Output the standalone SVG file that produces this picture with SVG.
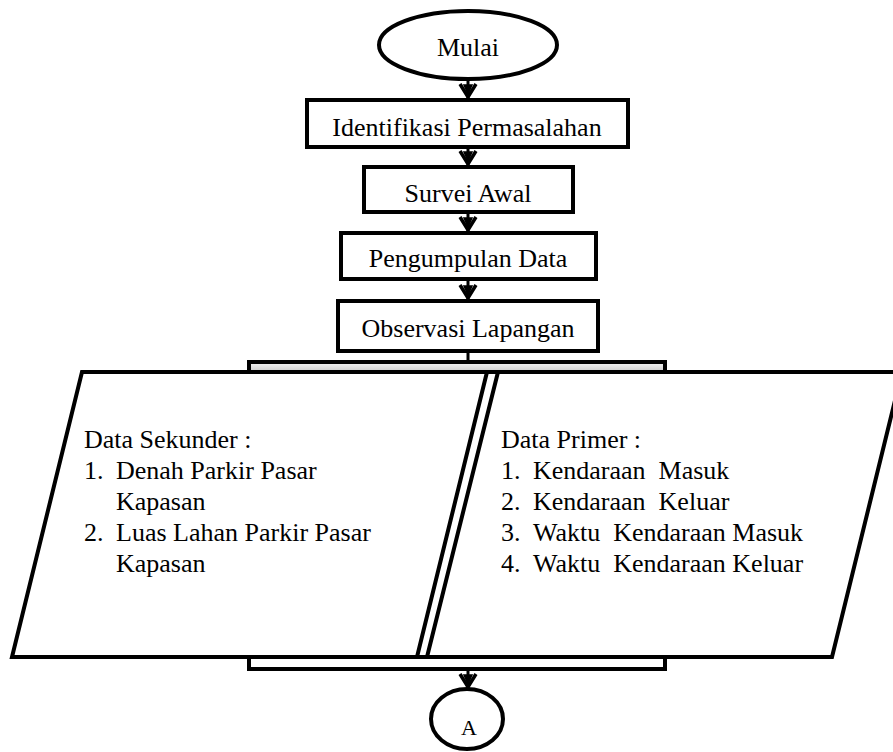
<svg xmlns="http://www.w3.org/2000/svg" width="893" height="752" viewBox="0 0 893 752">
<style>
.s{fill:#fff;stroke:#000;stroke-width:4}
.t{font-family:"Liberation Serif","Times New Roman",serif;font-size:26px;fill:#000}
.c{text-anchor:middle}
.ln{stroke:#000;stroke-width:3;fill:none}
</style>
<defs>
<linearGradient id="g" x1="0" y1="0" x2="0" y2="1">
<stop offset="0" stop-color="#f4f4f4"/><stop offset="1" stop-color="#c8c8c8"/>
</linearGradient>
<marker id="ah" viewBox="0 0 18 20" refX="16" refY="10" markerWidth="18" markerHeight="20" markerUnits="userSpaceOnUse" orient="auto">
<path d="M2,2 L15,10 L2,18" fill="none" stroke="#000" stroke-width="3.5"/>
<path d="M3,6 L12,10 L3,14 Z" fill="#000" stroke="#000" stroke-width="1.5"/>
</marker>
</defs>
<g id="connectors">
<line class="ln" x1="468" y1="80" x2="468" y2="98" marker-end="url(#ah)"/>
<line class="ln" x1="468" y1="147" x2="468" y2="165" marker-end="url(#ah)"/>
<line class="ln" x1="468" y1="212" x2="468" y2="231" marker-end="url(#ah)"/>
<line class="ln" x1="468" y1="279" x2="468" y2="299" marker-end="url(#ah)"/>
<line class="ln" x1="468" y1="351" x2="468" y2="362"/>
<line class="ln" x1="468" y1="670" x2="468" y2="688" marker-end="url(#ah)"/>
</g>
<g id="bar-top"><rect x="249" y="362" width="416" height="10" fill="url(#g)" stroke="#000" stroke-width="4"/></g>
<g id="bar-bottom"><rect x="249" y="657" width="416" height="12" fill="#fff" stroke="#000" stroke-width="4"/></g>
<g id="n-mulai"><ellipse class="s" cx="468" cy="45" rx="89" ry="34"/><text class="t c" x="468" y="56">Mulai</text></g>
<g id="n-identifikasi"><rect class="s" x="307" y="100" width="321" height="47"/><text class="t c" x="467" y="136">Identifikasi Permasalahan</text></g>
<g id="n-survei"><rect class="s" x="364" y="167" width="209" height="45"/><text class="t c" x="468" y="202">Survei Awal</text></g>
<g id="n-pengumpulan"><rect class="s" x="341" y="233" width="255" height="46"/><text class="t c" x="468" y="267">Pengumpulan Data</text></g>
<g id="n-observasi"><rect class="s" x="338" y="301" width="260" height="50"/><text class="t c" x="468" y="337">Observasi Lapangan</text></g>
<g id="n-sekunder">
<polygon class="s" points="82,372 487,372 417,657 12,657"/>
<text class="t" x="84" y="448">Data Sekunder :</text>
<text class="t" x="84" y="479">1.</text><text class="t" x="116" y="479">Denah Parkir Pasar</text>
<text class="t" x="116" y="510">Kapasan</text>
<text class="t" x="84" y="541">2.</text><text class="t" x="116" y="541">Luas Lahan Parkir Pasar</text>
<text class="t" x="116" y="572">Kapasan</text>
</g>
<g id="n-primer">
<polygon class="s" points="498,372 902,372 832,657 427,657"/>
<text class="t" x="501" y="448">Data Primer :</text>
<text class="t" x="501" y="479">1.</text><text class="t" x="533" y="479" xml:space="preserve">Kendaraan  Masuk</text>
<text class="t" x="501" y="510">2.</text><text class="t" x="533" y="510" xml:space="preserve">Kendaraan  Keluar</text>
<text class="t" x="501" y="541">3.</text><text class="t" x="533" y="541" xml:space="preserve">Waktu  Kendaraan Masuk</text>
<text class="t" x="501" y="572">4.</text><text class="t" x="533" y="572" xml:space="preserve">Waktu  Kendaraan Keluar</text>
</g>
<g id="n-a"><ellipse class="s" cx="467" cy="719" rx="36" ry="30"/><text class="t c" x="469" y="735" style="font-size:22px">A</text></g>
</svg>
